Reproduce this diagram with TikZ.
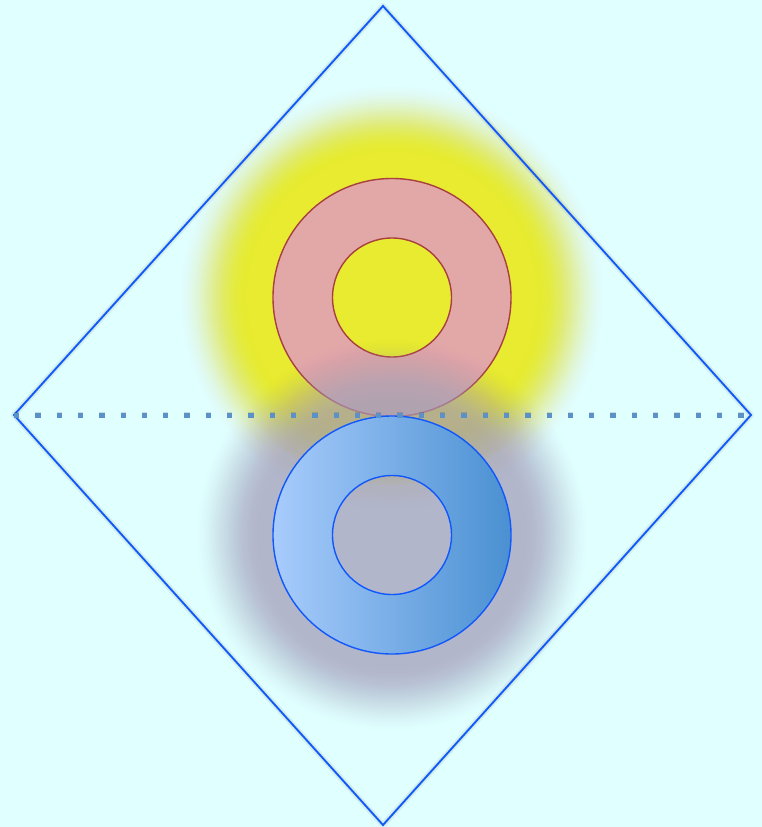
\documentclass[tikz,border=0pt]{standalone}
\definecolor{bg}{RGB}{224,255,255}
\definecolor{glowyellow}{RGB}{232,235,47}
\definecolor{glowgrey}{RGB}{170,162,192}
\definecolor{ringred}{RGB}{226,168,168}
\definecolor{ringredline}{RGB}{168,64,64}
\definecolor{ringblueL}{RGB}{168,204,252}
\definecolor{ringblueR}{RGB}{74,144,210}
\definecolor{lineblue}{RGB}{16,88,252}
\definecolor{dotblue}{RGB}{90,145,200}
% soft glow: #1 centre, #2 colour, #3 max opacity, #4 solid radius, #5 outer radius
\newcommand{\softglow}[5]{%
  \pgfmathsetmacro{\gW}{#5-#4}%
  \pgfmathtruncatemacro{\gStart}{#5}%
  \pgfmathtruncatemacro{\gNext}{#5-2}%
  \pgfmathtruncatemacro{\gEnd}{#4+2}%
  \foreach \r in {\gStart,\gNext,...,\gEnd} {%
    \pgfmathsetmacro{\up}{min(1,(\r+2-#4)/\gW)}%
    \pgfmathsetmacro{\uc}{(\r-#4)/\gW}%
    \pgfmathsetmacro{\tp}{#3*(1-(3*\up*\up-2*\up*\up*\up))}%
    \pgfmathsetmacro{\tc}{#3*(1-(3*\uc*\uc-2*\uc*\uc*\uc))}%
    \pgfmathsetmacro{\ga}{1-(1-\tc)/(1-\tp)}%
    \fill[#2, opacity=\ga] (#1) circle (\r);
  }%
  \pgfmathsetmacro{\uc}{2/\gW}%
  \pgfmathsetmacro{\tp}{#3*(1-(3*\uc*\uc-2*\uc*\uc*\uc))}%
  \pgfmathsetmacro{\ga}{1-(1-#3)/(1-\tp)}%
  \fill[#2, opacity=\ga] (#1) circle (#4);
}
\tikzset{
  ringline/.style={line width=1.4pt},
  diamondline/.style={draw=lineblue, line width=1.8pt, line join=miter},
  diamondshadow/.style={draw=black, opacity=0.06, line width=#1, line join=round},
  dotline/.style={draw=dotblue, line width=5pt, dash pattern=on 5.3pt off 16pt, line cap=butt},
}
\begin{document}
\begin{tikzpicture}[x=1pt,y=-1pt]
\useasboundingbox (0,0) rectangle (762,827);
\fill[bg] (0,0) rectangle (762,827);
% diamond corners
\coordinate (T) at (383,6);
\coordinate (L) at (14,415);
\coordinate (R) at (751,415);
\coordinate (B) at (383,825);
\coordinate (C1) at (392,297.5);
\coordinate (C2) at (392,535);
% yellow glow
\softglow{C1}{glowyellow}{1}{145}{214}
% red ring
\fill[ringred, even odd rule] (C1) circle (119) (C1) circle (59.5);
\draw[ringredline, ringline] (C1) circle (119);
\draw[ringredline, ringline] (C1) circle (59.5);
% grey glow
\softglow{C2}{glowgrey}{0.7}{135}{200}
% diamond shadow and outline
\begin{scope}[shift={(2,4)}]
  \draw[diamondshadow=6pt] (T) -- (R) -- (B) -- (L) -- cycle;
  \draw[diamondshadow=3pt] (T) -- (R) -- (B) -- (L) -- cycle;
\end{scope}
\draw[diamondline] (T) -- (R) -- (B) -- (L) -- cycle;
% blue ring
\shade[left color=ringblueL, right color=ringblueR, even odd rule] (C2) circle (119) (C2) circle (59.5);
\draw[lineblue, ringline] (C2) circle (119);
\draw[lineblue, ringline] (C2) circle (59.5);
% dotted line with shadow
\begin{scope}[shift={(1,3)}]
  \draw[dotline, draw=black, opacity=0.12, line width=6pt] (L) -- (R);
\end{scope}
\draw[dotline] (L) -- (R);
\end{tikzpicture}
\end{document}
